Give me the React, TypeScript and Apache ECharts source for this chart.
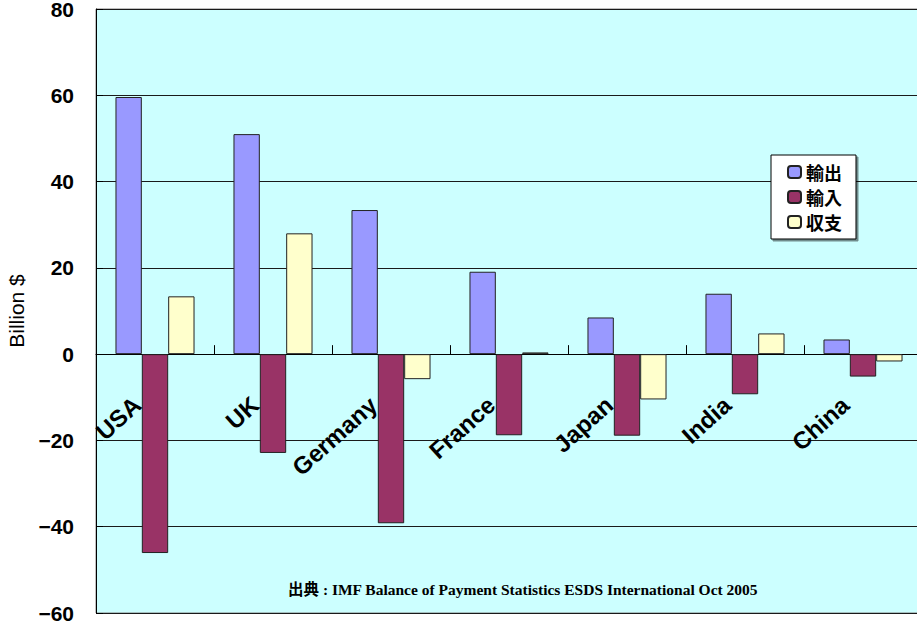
import React, { useEffect, useRef } from "react";
import * as echarts from "echarts";

// Countries and the three series (billion US$)
const countries = ["USA", "UK", "Germany", "France", "Japan", "India", "China"];
const exportsData = [59.6, 51.0, 33.4, 19.1, 8.5, 14.0, 3.4];
const importsData = [-46.1, -22.9, -39.2, -18.8, -18.9, -9.3, -5.2];
const balanceData = [13.4, 28.0, -5.8, 0.4, -10.5, 4.8, -1.7];
const seriesNames = ["輸出", "輸入", "収支"];
const seriesColors = ["#9999FF", "#993366", "#FFFFCC"];
const yMin = -60;
const yMax = 80;
const yStep = 20;
const sourceNote = "出典 : IMF Balance of Payment Statistics ESDS International Oct 2005";

const SANS = '"Liberation Sans", Arial, "Noto Sans CJK JP", sans-serif';
const SERIF = '"Liberation Serif", "Times New Roman", "Noto Sans CJK JP", serif';

// plot box
const GRID_TOP = 9;
const GRID_BOTTOM = 13;
const CHART_H = 626;

export default function App() {
  const ref = useRef<HTMLDivElement>(null);

  useEffect(() => {
    if (!ref.current) return;
    const chart = echarts.init(ref.current, undefined, { renderer: "svg" });
    const values = [exportsData, importsData, balanceData];

    // distance from the plot's bottom edge up to the zero line, so the
    // country names sit just under the zero axis line
    const plotH = CHART_H - GRID_TOP - GRID_BOTTOM;
    const zeroFromBottom = (plotH * (0 - yMin)) / (yMax - yMin);

    chart.setOption({
      animation: false,
      backgroundColor: "#ffffff",
      textStyle: { fontFamily: SANS },
      grid: {
        left: 96,
        top: GRID_TOP,
        bottom: GRID_BOTTOM,
        right: -5,
        show: true,
        backgroundColor: "#CCFFFF",
        borderColor: "#808080",
        borderWidth: 1,
        containLabel: false,
        outerBoundsMode: "none",
      },
      legend: {
        orient: "vertical",
        left: 771,
        top: 155,
        padding: [8, 14, 8, 16],
        itemGap: 7,
        itemWidth: 13,
        itemHeight: 12,
        backgroundColor: "#ffffff",
        borderColor: "#000000",
        borderWidth: 1,
        shadowColor: "rgba(0,0,0,0.45)",
        shadowOffsetX: 2,
        shadowOffsetY: 2,
        shadowBlur: 0,
        textStyle: {
          fontSize: 18,
          fontWeight: "bold",
          color: "#000",
          fontFamily: '"Noto Sans CJK JP", sans-serif',
        },
        data: seriesNames,
      },
      xAxis: {
        type: "category",
        data: countries,
        axisLine: { show: true, onZero: true, onZeroAxisIndex: 0, lineStyle: { color: "#000", width: 1 } },
        axisTick: { show: true, inside: true, length: 9, lineStyle: { color: "#000" } },
        axisLabel: {
          rotate: 42,
          margin: 31 - zeroFromBottom,
          padding: [0, 24, 0, 0],
          fontSize: 24,
          fontWeight: "bold",
          color: "#000",
          fontFamily: SANS,
        },
        splitLine: { show: false },
      },
      yAxis: {
        type: "value",
        min: yMin,
        max: yMax,
        interval: yStep,
        name: "Billion $",
        nameLocation: "middle",
        nameGap: 63,
        nameTextStyle: { fontSize: 21, color: "#000", fontFamily: SANS },
        axisLine: { show: true, lineStyle: { color: "#000" } },
        axisTick: { show: true, inside: true, length: 7, lineStyle: { color: "#000" } },
        axisLabel: {
          margin: 22,
          padding: [4, 0, 0, 0],
          lineHeight: 14,
          fontSize: 21,
          fontWeight: "bold",
          color: "#000",
          fontFamily: SANS,
          formatter: (v: number) => String(v).replace("-", "−"),
        },
        splitLine: { show: true, lineStyle: { color: "#1a1a1a", width: 1 } },
      },
      series: seriesNames.map((name, i) => ({
        name,
        type: "bar",
        data: values[i],
        barGap: "0%",
        barCategoryGap: "33%",
        itemStyle: { color: seriesColors[i], borderColor: "#222", borderWidth: 1 },
      })),
      graphic: [
        {
          type: "text",
          left: 288,
          top: 582,
          style: {
            text: sourceNote,
            fontSize: 15.5,
            fontWeight: "bold",
            fontFamily: SERIF,
            fill: "#000",
          },
        },
      ],
    });

    return () => chart.dispose();
  }, []);

  return (
    <div
      ref={ref}
      style={{ position: "fixed", left: 0, top: 0, width: 917, height: 626 }}
    />
  );
}
